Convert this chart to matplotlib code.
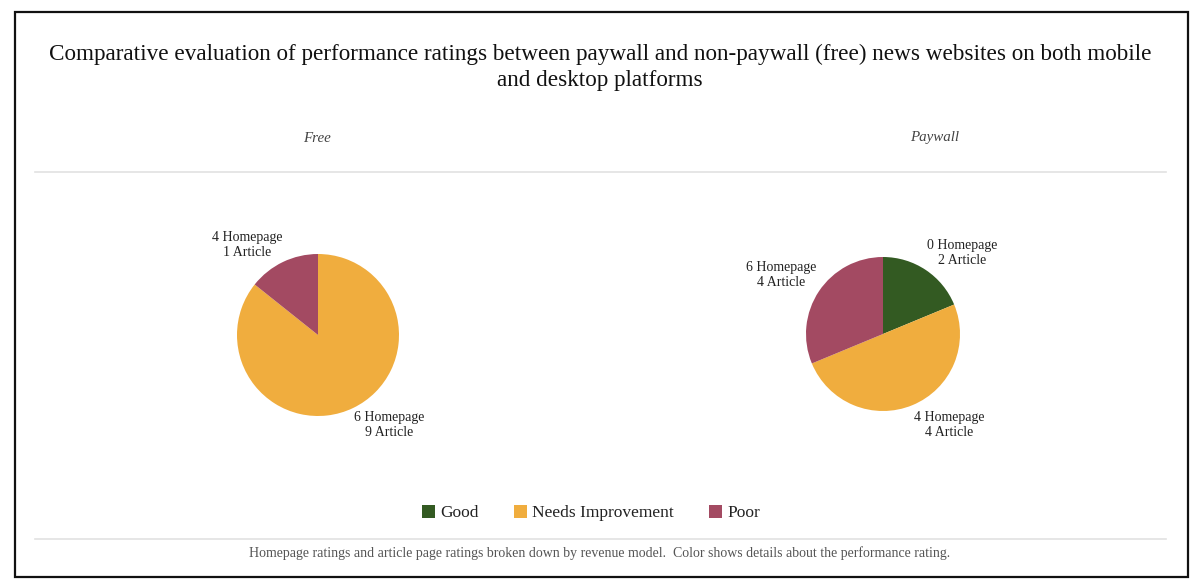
import matplotlib
matplotlib.use("Agg")
import matplotlib.pyplot as plt
from matplotlib.patches import Rectangle, Patch
from matplotlib.lines import Line2D

# ---------------- data ----------------
categories = ["Good", "Needs Improvement", "Poor"]
panels = ["Free", "Paywall"]
# wedge sizes
free_share = [0, 6, 1]
paywall_share = [3, 8, 5]
# counts shown in the labels
free_homepage = [0, 6, 4]
free_article = [0, 9, 1]
paywall_homepage = [0, 4, 6]
paywall_article = [2, 4, 4]

title = ("Comparative evaluation of performance ratings between paywall and non-paywall (free) news websites on both mobile\n"
         "and desktop platforms")
caption = ("Homepage ratings and article page ratings broken down by revenue model.  "
           "Color shows details about the performance rating.")

# ---------------- style / layout ----------------
colors = ["#335a22", "#f0ad3e", "#a34a62"]
W, H = 1200, 588
plt.rcParams['font.family'] = ['Liberation Serif', 'DejaVu Serif']

fig = plt.figure(figsize=(W / 100, H / 100), dpi=100)


def fx(x):
    return x / W


def fy(y):
    return 1 - y / H


# outer border
fig.patches.append(Rectangle((fx(15), fy(577)), fx(1188) - fx(15), fy(12) - fy(577),
                             transform=fig.transFigure, fill=False, ec="#111111", lw=1.6))

# separator lines
for yy in (172, 539):
    fig.add_artist(Line2D([fx(35), fx(1166)], [fy(yy), fy(yy)], transform=fig.transFigure,
                          color="#e2e2e2", lw=1.2))

fig.text(0.5, fy(67.5), title, ha="center", va="center", fontsize=16.7, color="#111111",
         linespacing=1.33)

# panel headers
header_x = [317, 935]
for name, hx in zip(panels, header_x):
    fig.text(fx(hx), fy(138), name, ha="center", va="center", fontsize=10.8,
             style="italic", color="#444444")

# pies
pie_specs = [
    (free_share, free_homepage, free_article, (318, 335), 81,
     {1: (0.876, -1.117), 2: (-0.876, 1.117)}),
    (paywall_share, paywall_homepage, paywall_article, (883, 334), 77,
     {0: (1.034, 1.056), 1: (0.855, -1.18), 2: (-1.326, 0.769)}),
]
for share, hp, art, (cx, cy), r, lpos in pie_specs:
    ax = fig.add_axes([fx(cx - r), fy(cy + r), 2 * r / W, 2 * r / H])
    ax.pie(share, colors=colors, startangle=90, counterclock=False, radius=1,
           wedgeprops=dict(linewidth=0))
    ax.set_xlim(-1, 1)
    ax.set_ylim(-1, 1)
    ax.set_axis_off()
    for i, (tx, ty) in lpos.items():
        ax.text(tx, ty, f"{hp[i]} Homepage\n{art[i]} Article", ha="center", va="center",
                fontsize=10, color="#222222", linespacing=1.2, clip_on=False)

# legend
handles = [Patch(facecolor=c, edgecolor="none", label=l) for c, l in zip(colors, categories)]
fig.legend(handles=handles, loc="center", bbox_to_anchor=(fx(591), fy(513)), ncol=3,
           frameon=False, fontsize=12.5, handlelength=0.78, handleheight=0.78,
           handletextpad=0.3, columnspacing=2.0, labelcolor="#222222")

fig.text(0.5, fy(553), caption, ha="center", va="center", fontsize=10, color="#555555")

fig.savefig("out.png", dpi=100)
